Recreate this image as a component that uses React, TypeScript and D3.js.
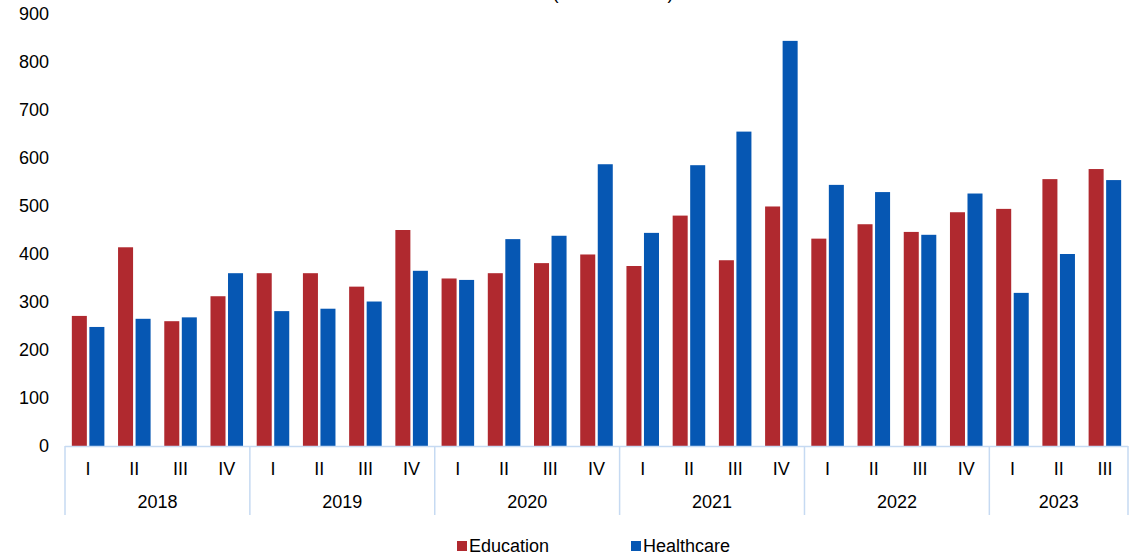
import React from "react";
import * as d3 from "d3";

const years = ["2018", "2019", "2020", "2021", "2022", "2023"];
const quarters = [
  "I", "II", "III", "IV",
  "I", "II", "III", "IV",
  "I", "II", "III", "IV",
  "I", "II", "III", "IV",
  "I", "II", "III", "IV",
  "I", "II", "III",
];
const yearOfCat = [
  0, 0, 0, 0, 1, 1, 1, 1, 2, 2, 2, 2, 3, 3, 3, 3, 4, 4, 4, 4, 5, 5, 5,
];
const education = [
  271, 414, 260, 312, 360, 360, 332, 450, 349, 360, 381, 399, 375, 480, 387, 499,
  432, 462, 446, 487, 494, 556, 577,
];
const healthcare = [
  248, 265, 268, 360, 281, 286, 301, 365, 346, 431, 438, 587, 444, 585, 655, 844,
  544, 529, 440, 526, 319, 400, 554,
];
const seriesNames = ["Education", "Healthcare"];
const seriesColors = ["#B0292F", "#0657B3"];
const yTicks = [0, 100, 200, 300, 400, 500, 600, 700, 800, 900];
const titleText = "(in billion AMD)";

const W = 1135;
const H = 555;
const left = 65;
const right = 1128;
const top = 14;
const bottom = 446;
const font = "'Liberation Sans', Arial, sans-serif";

export default function App() {
  const cats = quarters.map((_, i) => String(i));
  const x0 = d3.scaleBand<string>().domain(cats).range([left, right]).padding(0);
  const x1 = d3
    .scaleBand<string>()
    .domain(seriesNames)
    .range([0, x0.bandwidth()])
    .paddingInner(0.143)
    .paddingOuter(0.39);
  const y = d3.scaleLinear().domain([0, 900]).range([bottom, top]);
  const data = [education, healthcare];

  const groups = years.map((yr, gi) => {
    const idx = yearOfCat.map((g, i) => (g === gi ? i : -1)).filter((i) => i >= 0);
    const x = x0(String(idx[0]))!;
    const xe = x0(String(idx[idx.length - 1]))! + x0.bandwidth();
    return { yr, x, xe };
  });
  const sepXs = [...groups.map((g) => g.x), groups[groups.length - 1].xe];

  return (
    <svg
      width={W}
      height={H}
      style={{ position: "absolute", left: 0, top: 0, background: "#fff" }}
      fontFamily={font}
    >
      <text x={613} y={-1} textAnchor="middle" fontSize={18} fill="#000">
        {titleText}
      </text>
      {yTicks.map((t) => (
        <text
          key={t}
          x={49}
          y={y(t)}
          dy="0.35em"
          textAnchor="end"
          fontSize={18}
          fill="#000"
        >
          {t}
        </text>
      ))}
      {data.map((vals, si) =>
        vals.map((v, i) => (
          <rect
            key={`${si}-${i}`}
            x={x0(String(i))! + x1(seriesNames[si])!}
            y={y(v)}
            width={x1.bandwidth()}
            height={y(0) - y(v)}
            fill={seriesColors[si]}
          />
        ))
      )}
      <line x1={left} x2={right} y1={bottom + 0.5} y2={bottom + 0.5} stroke="#C6DAF2" strokeWidth={1.5} />
      {sepXs.map((sx, i) => (
        <line key={i} x1={sx} x2={sx} y1={bottom} y2={515} stroke="#C6DAF2" strokeWidth={1.5} />
      ))}
      {quarters.map((q, i) => (
        <text
          key={i}
          x={x0(String(i))! + x0.bandwidth() / 2}
          y={469}
          dy="0.35em"
          textAnchor="middle"
          fontSize={18}
          fill="#000"
        >
          {q}
        </text>
      ))}
      {groups.map((g) => (
        <text
          key={g.yr}
          x={(g.x + g.xe) / 2}
          y={502}
          dy="0.35em"
          textAnchor="middle"
          fontSize={18}
          fill="#000"
        >
          {g.yr}
        </text>
      ))}
      {seriesNames.map((n, i) => {
        const lx = [457, 631][i];
        return (
          <g key={n}>
            <rect x={lx} y={541} width={10} height={10} fill={seriesColors[i]} />
            <text x={lx + 12} y={546} dy="0.35em" fontSize={18} fill="#000">
              {n}
            </text>
          </g>
        );
      })}
    </svg>
  );
}
